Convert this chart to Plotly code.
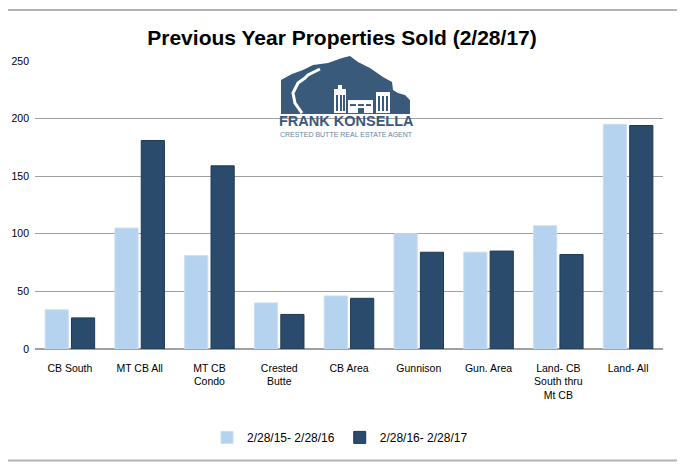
import plotly.graph_objects as go

categories = ["CB South", "MT CB All", "MT CB<br>Condo", "Crested<br>Butte", "CB Area",
              "Gunnison", "Gun. Area", "Land- CB<br>South thru<br>Mt CB", "Land- All"]
series_2015_16 = [34, 105, 81, 40, 46, 100, 84, 107, 195]
series_2016_17 = [27, 181, 159, 30, 44, 84, 85, 82, 194]
series_names = ["2/28/15- 2/28/16", "2/28/16- 2/28/17"]
y_ticks = [0, 50, 100, 150, 200, 250]

# The page body has an 8px margin, so the figure is drawn 8px smaller and
# all layout targets below are given in page pixels and shifted by OFF.
OFF = 8
W, H = 685 - OFF, 470 - OFF
PL, PR, PT, PB = 35, 663, 61, 348.7          # plot box in page pixels
L, R, T, B = PL - OFF, W - (PR - OFF), PT - OFF, H - (PB - OFF)
FONT = "Liberation Sans, Arial, sans-serif"
LOGO = "#3A5A7B"

fig = go.Figure()
fig.add_trace(go.Bar(x=categories, y=series_2015_16, name=series_names[0],
                     marker=dict(color="#B5D2EE", line=dict(color="#C9DEF3", width=1))))
fig.add_trace(go.Bar(x=categories, y=series_2016_17, name=series_names[1],
                     marker=dict(color="#2B4B6C", line=dict(color="#1E3956", width=1))))

pw, ph = PR - PL, PB - PT


def px(x, y):
    """page pixel -> paper coords"""
    return (x - PL) / pw, (PB - y) / ph


def path(points, close=True):
    s = ""
    for i, (x, y) in enumerate(points):
        a, b = px(x, y)
        s += ("M" if i == 0 else "L") + f"{a:.4f},{b:.4f} "
    return s + ("Z" if close else "")


def rect(x0, y0, x1, y1, color, line=None):
    a0, b1 = px(x0, y0)
    a1, b0 = px(x1, y1)
    return dict(type="rect", xref="paper", yref="paper", x0=a0, x1=a1, y0=b0, y1=b1,
                fillcolor=color, line=dict(width=0) if line is None else line, layer="above")


shapes = []
# frame lines top & bottom
for yy in (10, 460):
    shapes.append(dict(type="line", xref="paper", yref="paper",
                       x0=px(OFF, 0)[0], x1=px(685, 0)[0],
                       y0=px(0, yy)[1], y1=px(0, yy)[1], line=dict(color="#B4B4B4", width=2)))
# logo mountain
mountain = [(281, 114), (281, 80), (292, 74), (303, 70), (313, 65), (328, 63), (342, 58),
            (350, 56), (358, 62), (370, 68), (383, 77), (392, 82), (393, 90), (398, 93),
            (405, 95), (410, 100), (410, 114)]
shapes.append(dict(type="path", xref="paper", yref="paper", path=path(mountain),
                   fillcolor=LOGO, line=dict(width=0), layer="above"))
# road
road = [(320, 69), (308, 75), (305, 78), (298, 83), (293, 93), (295, 103), (302, 113)]
shapes.append(dict(type="path", xref="paper", yref="paper", path=path(road, close=False),
                   line=dict(color="white", width=3), layer="above"))
# buildings
shapes.append(rect(334, 89, 346, 113, "white"))
shapes.append(rect(338, 85, 342, 89, "white"))
shapes.append(rect(348, 100, 373, 113, "white"))
shapes.append(rect(376, 92, 390, 113, "white"))
for (x0, y0, x1, y1) in [(336, 95, 338, 111), (340, 95, 342, 111), (343, 95, 345, 111),
                         (350, 104, 356, 106), (358, 104, 364, 106), (366, 104, 371, 106),
                         (358, 108, 364, 113), (378, 96, 380, 111), (382, 96, 384, 111),
                         (386, 96, 388, 111)]:
    shapes.append(rect(x0, y0, x1, y1, LOGO))

annotations = [
    dict(text="<b>FRANK KONSELLA</b>", xref="paper", yref="paper",
         x=px(346, 0)[0], y=px(0, 121)[1], showarrow=False,
         font=dict(family=FONT, size=14.5, color=LOGO), xanchor="center", yanchor="middle"),
    dict(text="CRESTED BUTTE REAL ESTATE AGENT", xref="paper", yref="paper",
         x=px(346, 0)[0], y=px(0, 134)[1], showarrow=False,
         font=dict(family=FONT, size=7, color="#6A84A0"), xanchor="center", yanchor="middle"),
]

fig.update_layout(
    width=W, height=H,
    margin=dict(l=L, r=R, t=T, b=B, autoexpand=False),
    paper_bgcolor="white", plot_bgcolor="white",
    barmode="group", bargap=0.245, bargroupgap=0.12,
    title=dict(text="<b>Previous Year Properties Sold (2/28/17)</b>", x=(342 - OFF) / W,
               xanchor="center", y=1 - (38 - OFF) / H, yanchor="middle",
               font=dict(family=FONT, size=21, color="#000000")),
    font=dict(family=FONT, size=12, color="#000000"),
    xaxis=dict(showgrid=False, showline=True, linecolor="#A0A0A0", linewidth=1,
               ticks="", tickfont=dict(size=10.5), ticklabelstandoff=9, automargin=False),
    yaxis=dict(range=[0, 250], tickvals=y_ticks, showgrid=True, gridcolor="#A0A0A0",
               gridwidth=1, zeroline=True, zerolinecolor="#A0A0A0", showline=False,
               ticks="", tickfont=dict(size=10.5), ticklabelstandoff=5, automargin=False),
    legend=dict(orientation="h", x=px(340, 0)[0], xanchor="center", y=px(0, 437)[1],
                yanchor="middle", font=dict(size=12), itemwidth=30, traceorder="normal"),
    shapes=shapes,
    annotations=annotations,
)

fig.write_html("out.html")
